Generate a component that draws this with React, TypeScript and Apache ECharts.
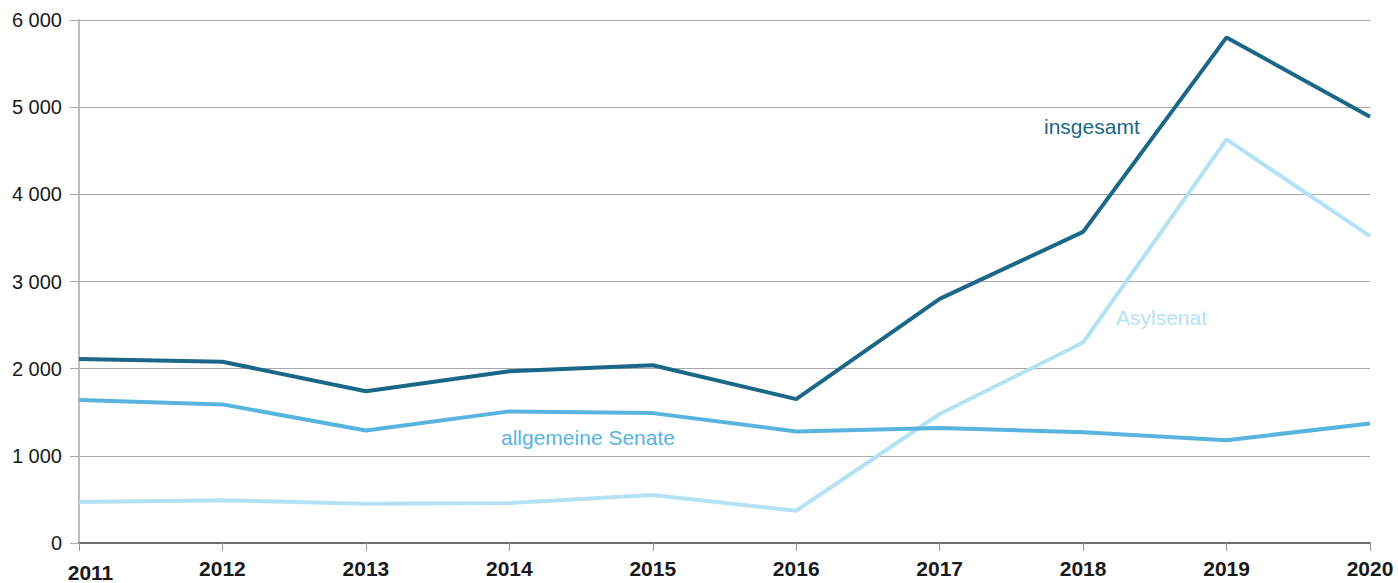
import React, { useEffect, useRef } from "react";
import * as echarts from "echarts";

const years = ["2011", "2012", "2013", "2014", "2015", "2016", "2017", "2018", "2019", "2020"];
const insgesamt = [2110, 2080, 1740, 1970, 2040, 1650, 2800, 3570, 5800, 4890];
const allgemeineSenate = [1640, 1590, 1290, 1510, 1490, 1280, 1320, 1270, 1180, 1370];
const asylsenat = [470, 490, 450, 460, 550, 370, 1480, 2300, 4630, 3520];

const C_TOTAL = "#1b6788";
const C_ALLG = "#58b4de";
const C_ASYL = "#b4e2f5";
const FONT = "Liberation Sans, Arial, Helvetica, sans-serif";

export default function App() {
  const ref = useRef<HTMLDivElement>(null);
  useEffect(() => {
    if (!ref.current) return;
    const chart = echarts.init(ref.current, null, { renderer: "svg" });
    chart.setOption({
      animation: false,
      textStyle: { fontFamily: FONT },
      grid: { left: 79, right: 28, top: 20, bottom: 39, containLabel: false },
      xAxis: {
        type: "category",
        data: years,
        boundaryGap: false,
        axisLine: { lineStyle: { color: "#6e6e6e", width: 2 } },
        axisTick: { show: true, length: 8, lineStyle: { color: "#999" } },
        axisLabel: {
          color: "#1a1a1a",
          fontSize: 21,
          fontWeight: "bold",
          fontFamily: FONT,
          margin: 15,
          formatter: (v: string, i: number) => (i === 0 ? "{first|" + v + "}" : v),
          rich: {
            first: {
              fontSize: 21,
              fontWeight: "bold",
              fontFamily: FONT,
              color: "#1a1a1a",
              padding: [4, 0, 0, 23],
            },
          },
        },
        splitLine: { show: false },
      },
      yAxis: {
        type: "value",
        min: 0,
        max: 6000,
        interval: 1000,
        axisLine: { show: true, lineStyle: { color: "#bdbdbd", width: 2 } },
        axisTick: { show: true, length: 9, lineStyle: { color: "#aaa" } },
        axisLabel: {
          color: "#1a1a1a",
          fontSize: 20,
          fontFamily: FONT,
          margin: 17,
          formatter: (v: number) => String(v).replace(/\B(?=(\d{3})+(?!\d))/g, " "),
        },
        splitLine: { lineStyle: { color: "#a8a8a8", width: 1 } },
      },
      series: [
        {
          name: "Asylsenat",
          type: "line",
          data: asylsenat,
          symbol: "none",
          lineStyle: { color: C_ASYL, width: 4 },
          itemStyle: { color: C_ASYL },
          z: 2,
        },
        {
          name: "allgemeine Senate",
          type: "line",
          data: allgemeineSenate,
          symbol: "none",
          lineStyle: { color: C_ALLG, width: 4 },
          itemStyle: { color: C_ALLG },
          z: 3,
        },
        {
          name: "insgesamt",
          type: "line",
          data: insgesamt,
          symbol: "none",
          lineStyle: { color: C_TOTAL, width: 4 },
          itemStyle: { color: C_TOTAL },
          z: 4,
        },
      ],
      graphic: [
        {
          type: "text",
          left: 1044,
          top: 116,
          style: { text: "insgesamt", fill: C_TOTAL, font: "21px " + FONT },
        },
        {
          type: "text",
          left: 1116,
          top: 307,
          style: { text: "Asylsenat", fill: C_ASYL, font: "21px " + FONT },
        },
        {
          type: "text",
          left: 501,
          top: 427,
          style: { text: "allgemeine Senate", fill: C_ALLG, font: "21px " + FONT },
        },
      ],
    });
    return () => chart.dispose();
  }, []);
  return (
    <div
      ref={ref}
      style={{ position: "absolute", left: 0, top: 0, width: 1398, height: 583 }}
    />
  );
}
